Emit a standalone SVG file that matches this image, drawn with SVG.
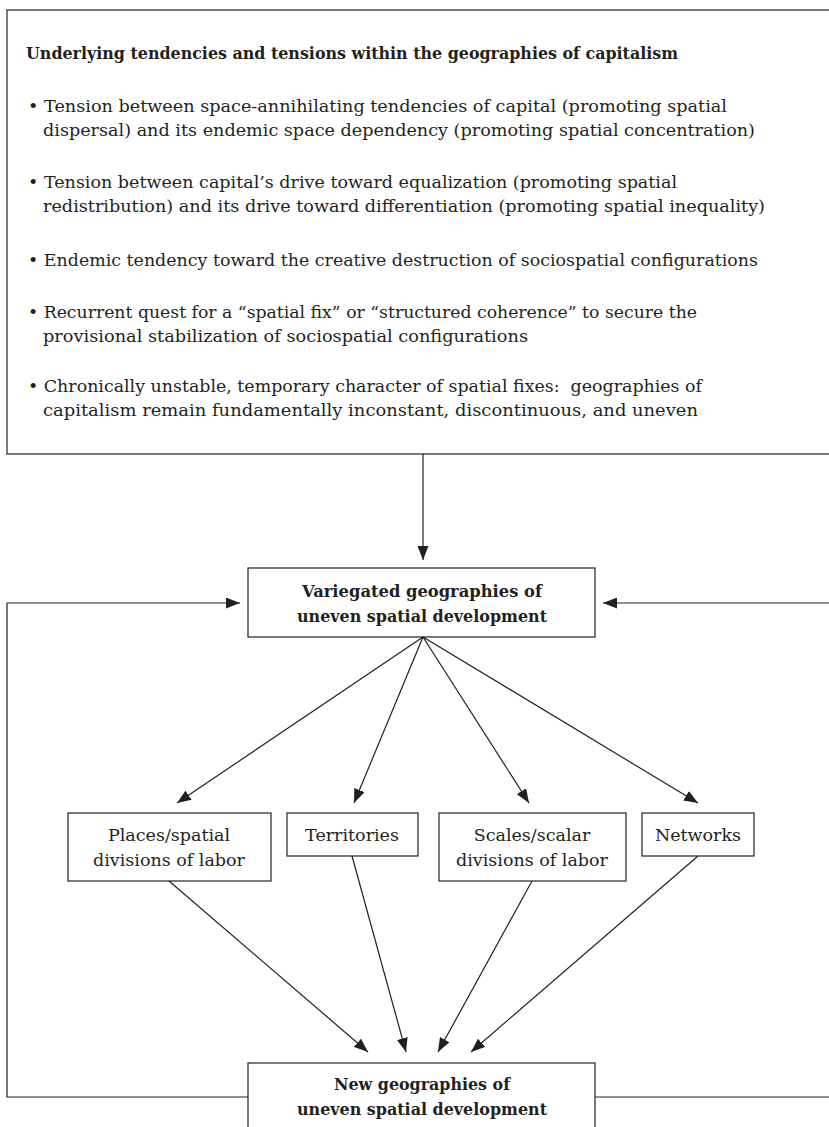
<svg xmlns="http://www.w3.org/2000/svg" width="829" height="1127" viewBox="0 0 829 1127">
  <style>
    .box { fill: #ffffff; stroke: #333333; stroke-width: 1.3; }
    .t { font-family: "DejaVu Serif", "Liberation Serif", serif; font-size: 17.5px; fill: #231f20; }
    .b { font-family: "DejaVu Serif", "Liberation Serif", serif; font-size: 17px; font-weight: bold; fill: #231f20; }
    .c { text-anchor: middle; }
    .ln { fill: none; stroke: #231f20; stroke-width: 1.2; }
  </style>
  <defs>
    <marker id="ah" markerUnits="userSpaceOnUse" markerWidth="14" markerHeight="11" refX="14" refY="5.5" orient="auto">
      <path d="M0,0 L14,5.5 L0,11 z" fill="#231f20"/>
    </marker>
  </defs>

  <g id="node-tendencies">
    <rect class="box" x="7" y="10" width="840" height="444"/>
    <text class="b" x="26" y="59" textLength="652" lengthAdjust="spacingAndGlyphs">Underlying tendencies and tensions within the geographies of capitalism</text>
    <text class="t" x="28" y="112" textLength="699" lengthAdjust="spacingAndGlyphs">• Tension between space-annihilating tendencies of capital (promoting spatial</text>
    <text class="t" x="43" y="136" textLength="712" lengthAdjust="spacingAndGlyphs">dispersal) and its endemic space dependency (promoting spatial concentration)</text>
    <text class="t" x="28" y="188" textLength="649" lengthAdjust="spacingAndGlyphs">• Tension between capital’s drive toward equalization (promoting spatial</text>
    <text class="t" x="43" y="212" textLength="722" lengthAdjust="spacingAndGlyphs">redistribution) and its drive toward differentiation (promoting spatial inequality)</text>
    <text class="t" x="28" y="266" textLength="730" lengthAdjust="spacingAndGlyphs">• Endemic tendency toward the creative destruction of sociospatial configurations</text>
    <text class="t" x="28" y="318" textLength="669" lengthAdjust="spacingAndGlyphs">• Recurrent quest for a “spatial fix” or “structured coherence” to secure the</text>
    <text class="t" x="43" y="342" textLength="485" lengthAdjust="spacingAndGlyphs">provisional stabilization of sociospatial configurations</text>
    <text class="t" x="28" y="392" textLength="674" lengthAdjust="spacingAndGlyphs">• Chronically unstable, temporary character of spatial fixes:&#160; geographies of</text>
    <text class="t" x="43" y="416" textLength="655" lengthAdjust="spacingAndGlyphs">capitalism remain fundamentally inconstant, discontinuous, and uneven</text>
  </g>

  <g id="node-variegated">
    <rect class="box" x="248" y="568" width="347" height="69"/>
    <text class="b c" x="422" y="597" textLength="240" lengthAdjust="spacingAndGlyphs">Variegated geographies of</text>
    <text class="b c" x="422" y="622" textLength="250" lengthAdjust="spacingAndGlyphs">uneven spatial development</text>
  </g>

  <g id="node-places">
    <rect class="box" x="68" y="813" width="203" height="68"/>
    <text class="t c" x="169" y="841">Places/spatial</text>
    <text class="t c" x="169" y="866">divisions of labor</text>
  </g>

  <g id="node-territories">
    <rect class="box" x="287" y="813" width="131" height="43"/>
    <text class="t c" x="352" y="841">Territories</text>
  </g>

  <g id="node-scales">
    <rect class="box" x="439" y="813" width="187" height="68"/>
    <text class="t c" x="532" y="841">Scales/scalar</text>
    <text class="t c" x="532" y="866">divisions of labor</text>
  </g>

  <g id="node-networks">
    <rect class="box" x="642" y="813" width="112" height="43"/>
    <text class="t c" x="698" y="841">Networks</text>
  </g>

  <g id="node-new">
    <rect class="box" x="248" y="1063" width="347" height="80"/>
    <text class="b c" x="422" y="1090" textLength="176" lengthAdjust="spacingAndGlyphs">New geographies of</text>
    <text class="b c" x="422" y="1115" textLength="250" lengthAdjust="spacingAndGlyphs">uneven spatial development</text>
  </g>

  <g id="connectors">
    <line class="ln" x1="423" y1="454" x2="423" y2="560" marker-end="url(#ah)"/>
    <line class="ln" x1="423" y1="637" x2="177" y2="803" marker-end="url(#ah)"/>
    <line class="ln" x1="423" y1="637" x2="354" y2="803" marker-end="url(#ah)"/>
    <line class="ln" x1="423" y1="637" x2="529" y2="803" marker-end="url(#ah)"/>
    <line class="ln" x1="423" y1="637" x2="698" y2="803" marker-end="url(#ah)"/>
    <line class="ln" x1="169" y1="881" x2="368" y2="1052" marker-end="url(#ah)"/>
    <line class="ln" x1="352" y1="856" x2="406" y2="1052" marker-end="url(#ah)"/>
    <line class="ln" x1="532" y1="881" x2="438" y2="1052" marker-end="url(#ah)"/>
    <line class="ln" x1="698" y1="856" x2="471" y2="1052" marker-end="url(#ah)"/>
    <polyline class="ln" points="248,1097 7,1097 7,603 240,603" marker-end="url(#ah)"/>
    <polyline class="ln" points="595,1097 840,1097 840,603 603,603" marker-end="url(#ah)"/>
  </g>
</svg>
